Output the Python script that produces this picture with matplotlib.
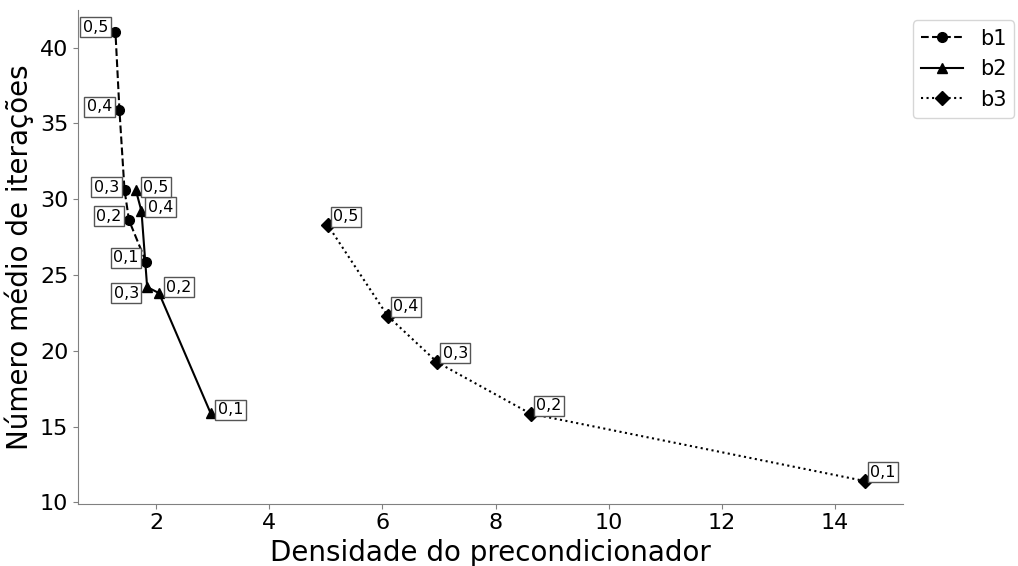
import matplotlib
matplotlib.use("Agg")
import matplotlib.pyplot as plt

labels = ["0,1", "0,2", "0,3", "0,4", "0,5"]

b1_x = [1.82, 1.52, 1.44, 1.35, 1.28]
b1_y = [25.86, 28.6, 30.6, 35.9, 41.0]

b2_x = [2.96, 2.05, 1.84, 1.74, 1.64]
b2_y = [15.9, 23.8, 24.2, 29.2, 30.6]

b3_x = [14.53, 8.62, 6.97, 6.09, 5.03]
b3_y = [11.4, 15.84, 19.23, 22.3, 28.3]

fig = plt.figure(figsize=(10.18, 5.66), dpi=100)
ax = fig.add_axes([0.0766, 0.1104, 0.810, 0.872])

ax.plot(b1_x, b1_y, linestyle="--", marker="o", color="black", markersize=7, label="b1")
ax.plot(b2_x, b2_y, linestyle="-", marker="^", color="black", markersize=7, label="b2")
ax.plot(b3_x, b3_y, linestyle=":", marker="D", color="black", markersize=7, label="b3")

bbox = dict(boxstyle="square,pad=0.15", fc="white", ec="#555555", lw=1)

# label box-centre offsets in pixels (x right, y up)
b1_off = [(-20, 4), (-20, 4), (-18, 3), (-20, 3), (-20, 5)]
b2_off = [(20, 3), (20, 6), (-21, -6), (19, 4), (20, 3)]
b3_off = [(18, 9), (18, 8), (18, 9), (18, 9), (18, 8)]

for xs, ys, offs in [(b1_x, b1_y, b1_off), (b2_x, b2_y, b2_off), (b3_x, b3_y, b3_off)]:
    for x, y, lab, off in zip(xs, ys, labels, offs):
        ax.annotate(lab, (x, y), xytext=off, textcoords="offset pixels",
                    fontsize=11.5, bbox=bbox, ha="center", va="center")

ax.spines["top"].set_visible(False)
ax.spines["right"].set_visible(False)
for s in ("left", "bottom"):
    ax.spines[s].set_color("#808080")
ax.tick_params(labelsize=16, color="#808080")
ax.set_xticks([2, 4, 6, 8, 10, 12, 14])
ax.set_yticks([10, 15, 20, 25, 30, 35, 40])
ax.set_xlabel("Densidade do precondicionador", fontsize=20)
ax.set_ylabel("Número médio de iterações", fontsize=20)

ax.legend(loc="upper left", bbox_to_anchor=(1.0, 1.0), fontsize=15)

fig.savefig("out.png", dpi=100)
